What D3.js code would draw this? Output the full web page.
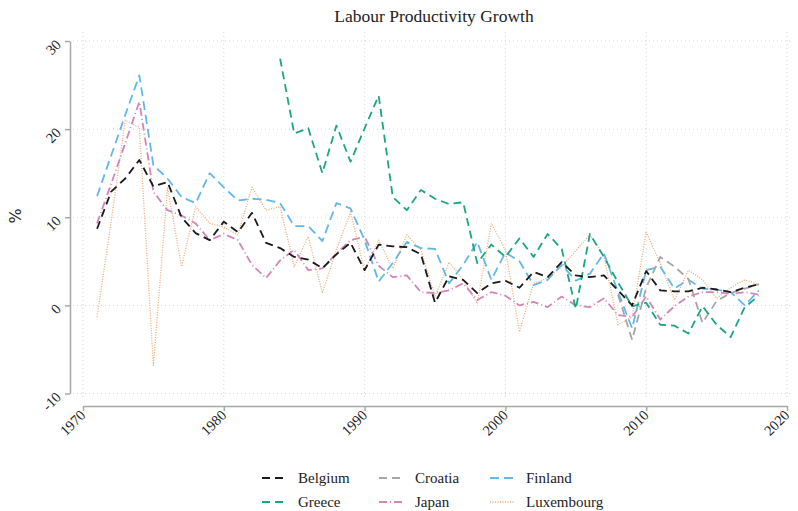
<!DOCTYPE html>
<html><head><meta charset="utf-8">
<script src="https://cdn.jsdelivr.net/npm/d3@7"></script>
<style>body{margin:0;background:#fff}svg{display:block}text{font-family:"Liberation Serif","Tinos","Times New Roman","DejaVu Serif",serif;fill:#222}</style>
</head><body><svg id="c" width="798" height="511"></svg>
<script>
const title = "Labour Productivity Growth";
const yLabel = "%";
const xTicks = [1970, 1980, 1990, 2000, 2010, 2020];
const yTicks = [-10, 0, 10, 20, 30];
const countries = ["Belgium", "Croatia", "Finland", "Greece", "Japan", "Luxembourg"];

const belgiumYears = d3.range(1971, 2019);
const belgium = [8.7, 12.9, 14.4, 16.5, 13.5, 14.0, 10.0, 8.2, 7.4, 9.5, 8.3, 10.5, 7.1, 6.5, 5.5, 5.2, 4.2, 5.8, 7.1, 4.0, 6.9, 6.7, 6.6, 5.8, 0.3, 3.3, 2.9, 1.4, 2.5, 2.8, 2.0, 3.8, 3.2, 4.9, 3.4, 3.2, 3.4, 1.7, 0.0, 3.9, 1.7, 1.6, 1.6, 2.0, 1.8, 1.5, 2.0, 2.4];

const croatiaYears = d3.range(2008, 2019);
const croatia = [1.2, -3.9, 2.0, 5.5, 4.4, 3.0, -2.0, 0.5, 1.4, 1.9, 2.4];

const finlandYears = d3.range(1971, 2019);
const finland = [12.4, 17.0, 21.6, 26.1, 15.9, 14.4, 12.3, 11.6, 15.0, 13.4, 11.9, 12.1, 12.0, 11.6, 9.0, 9.0, 7.3, 11.6, 11.0, 7.4, 2.7, 4.8, 7.2, 6.5, 6.4, 2.5, 4.6, 7.2, 2.9, 6.0, 5.0, 2.3, 2.9, 4.6, 2.8, 3.6, 5.9, 1.5, -2.6, 4.0, 4.4, 1.9, 2.9, 1.9, 1.8, 1.5, 0.0, 1.7];

const greeceYears = d3.range(1984, 2019);
const greece = [28.0, 19.5, 20.1, 15.0, 20.4, 16.3, 20.1, 23.8, 12.3, 10.8, 13.1, 12.1, 11.5, 11.7, 4.8, 6.9, 5.5, 7.6, 5.5, 8.1, 6.4, -0.4, 8.1, 5.5, 2.6, -0.1, 0.3, -2.2, -2.3, -3.2, -0.1, -2.2, -3.6, -0.2, 1.1];

const japanYears = d3.range(1971, 2019);
const japan = [9.3, 13.8, 18.4, 23.1, 12.9, 10.8, 10.2, 9.3, 7.4, 8.1, 7.4, 4.6, 3.1, 5.1, 6.3, 4.0, 4.2, 5.9, 7.4, 7.8, 4.5, 3.2, 3.4, 1.5, 1.4, 1.7, 2.5, 0.6, 1.5, 1.1, 0.0, 0.4, -0.2, 1.0, 0.0, -0.2, 0.8, -1.1, -1.3, 1.0, -1.6, -0.1, 1.0, 1.5, 1.5, 1.3, 1.5, 1.2];

const luxembourgYears = d3.range(1971, 2019);
const luxembourg = [-1.3, 9.5, 21.0, 20.2, -6.8, 13.4, 4.4, 11.2, 9.3, 8.9, 8.0, 13.4, 10.8, 11.2, 4.4, 7.8, 1.4, 6.3, 10.6, 3.9, 7.4, 4.2, 8.0, 6.3, 1.0, 4.9, 2.9, 0.2, 9.3, 6.3, -3.0, 2.5, 3.1, 4.4, 6.2, 8.0, 5.6, -2.2, -1.3, 8.3, 4.8, 0.6, 4.0, 2.9, 0.8, 2.0, 2.9, 2.4];

const FONT = "'Liberation Serif', 'Tinos', 'Times New Roman', 'DejaVu Serif', serif";
const svg = d3.select("#c");
const x = d3.scaleLinear().domain([1970, 2020]).range([83, 787]);
const y = d3.scaleLinear().domain([-10, 30]).range([393.5, 41]);

// grid
const grid = svg.append("g");
grid.selectAll(".hg").data(yTicks).join("line")
  .attr("x1", 73).attr("x2", 791).attr("y1", d => y(d)).attr("y2", d => y(d))
  .attr("stroke", "#d6d6d6").attr("stroke-width", 1).attr("stroke-dasharray", "1,3");
grid.selectAll(".vg").data(xTicks).join("line")
  .attr("x1", d => x(d)).attr("x2", d => x(d)).attr("y1", 32).attr("y2", 400)
  .attr("stroke", "#d6d6d6").attr("stroke-width", 1).attr("stroke-dasharray", "1,3");

// axes
const yAxis = svg.append("g").attr("transform", "translate(70,0)")
  .call(d3.axisLeft(y).tickValues(yTicks).tickSize(5).tickSizeOuter(0).tickFormat(d => String(d)));
const xAxis = svg.append("g").attr("transform", "translate(0,406)")
  .call(d3.axisBottom(x).tickValues(xTicks).tickSize(5).tickSizeOuter(0).tickFormat(d => String(d)));
[yAxis, xAxis].forEach(a => {
  a.attr("font-family", FONT);
  a.select(".domain").attr("stroke", "#a8a8a8").attr("stroke-width", 1.5);
  a.selectAll(".tick line").attr("stroke", "#a8a8a8").attr("stroke-width", 1.5);
  a.selectAll("text").attr("font-family", FONT).style("font-family", FONT).style("font-size", "14.5px").attr("fill", "#2a3040");
});
yAxis.selectAll(".tick text").attr("x", null).attr("dy", null)
  .attr("text-anchor", "end").attr("transform", "translate(-8,4) rotate(-45)");
xAxis.selectAll(".tick text").attr("y", null).attr("dy", null)
  .attr("text-anchor", "end").attr("transform", "translate(3,10) rotate(-45)");

// title and y label
svg.append("text").attr("x", 434).attr("y", 22).attr("text-anchor", "middle")
  .style("font-family", FONT).style("font-size", "17.5px").text(title);
svg.append("text").attr("transform", "translate(21,216) rotate(-90)").attr("text-anchor", "middle")
  .style("font-size", "16px").style("font-family", "DejaVu Sans").text(yLabel);

const styles = {
  Belgium: {c: "#1a1a1a", d: "8,5", w: 1.8},
  Croatia: {c: "#a6a6a6", d: "8,5", w: 1.8},
  Finland: {c: "#63b8ea", d: "9,5", w: 1.8},
  Greece: {c: "#1aa77f", d: "8,5", w: 1.8},
  Japan: {c: "#d386b8", d: "8,3,1,3", w: 1.8},
  Luxembourg: {c: "#f2a877", d: "1,1.5", w: 1.3}
};
const seriesData = {
  Belgium: [belgiumYears, belgium],
  Croatia: [croatiaYears, croatia],
  Finland: [finlandYears, finland],
  Greece: [greeceYears, greece],
  Japan: [japanYears, japan],
  Luxembourg: [luxembourgYears, luxembourg]
};
const line = d3.line().x(d => x(d[0])).y(d => y(d[1]));
const drawOrder = ["Luxembourg", "Japan", "Finland", "Croatia", "Greece", "Belgium"];
drawOrder.forEach(k => {
  const [ys, vs] = seriesData[k];
  const pts = ys.map((yr, i) => [yr, vs[i]]);
  svg.append("path").datum(pts).attr("d", line).attr("fill", "none")
    .attr("stroke", styles[k].c).attr("stroke-width", styles[k].w)
    .attr("stroke-dasharray", styles[k].d).attr("stroke-linejoin", "round");
});

// legend
const legendOrder = ["Belgium", "Croatia", "Finland", "Greece", "Japan", "Luxembourg"];
const colX = [262, 379, 490];
const rowY = [478, 502];
legendOrder.forEach((k, i) => {
  const cx = colX[i % 3], cy = rowY[Math.floor(i / 3)];
  svg.append("line").attr("x1", cx).attr("x2", cx + 24).attr("y1", cy).attr("y2", cy)
    .attr("stroke", styles[k].c).attr("stroke-width", styles[k].w + 0.4)
    .attr("stroke-dasharray", styles[k].d);
  svg.append("text").attr("x", cx + 36).attr("y", cy + 5)
    .style("font-family", FONT).style("font-size", "15px").text(k);
});
</script></body></html>
